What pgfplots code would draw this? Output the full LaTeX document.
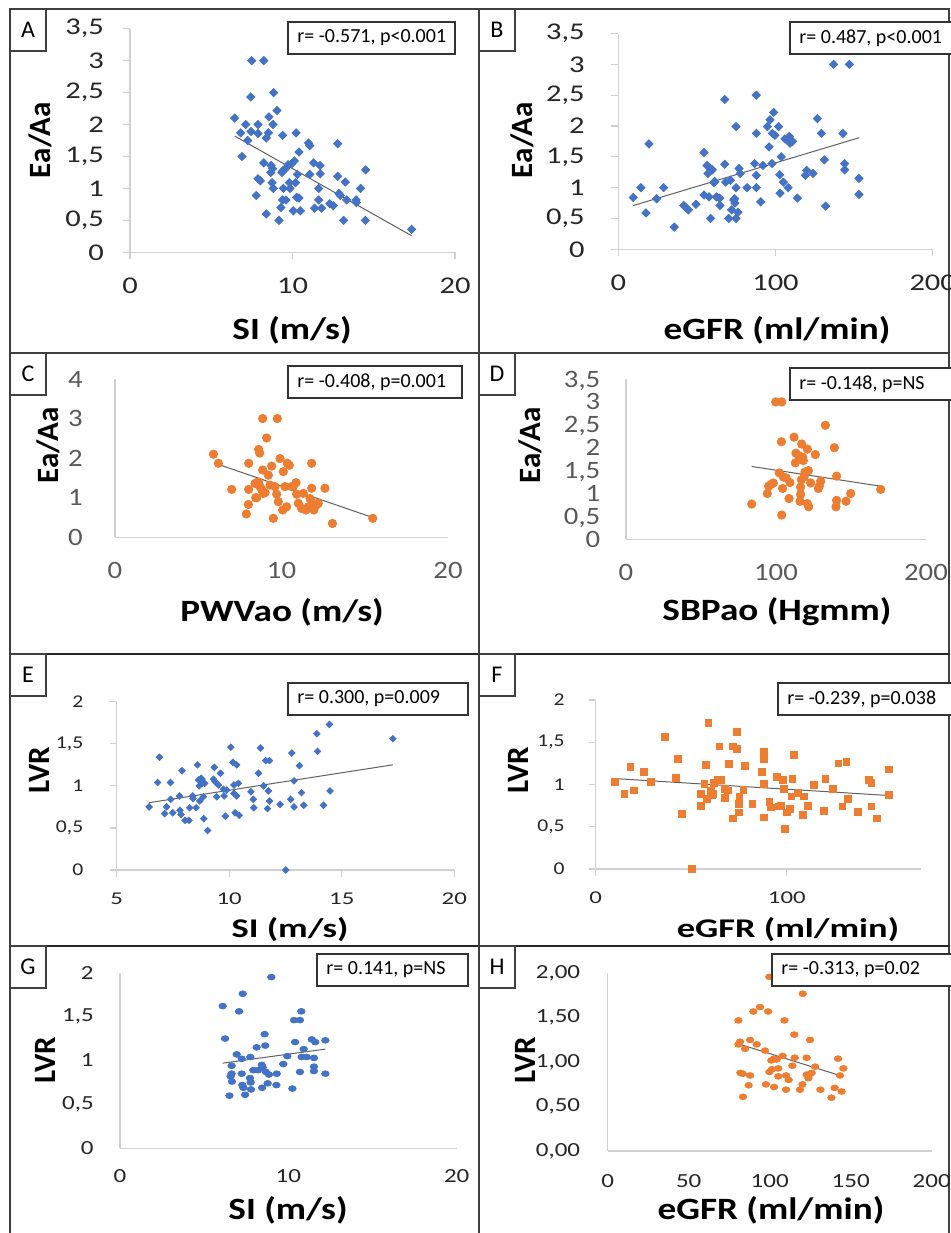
\documentclass[border=0pt]{standalone}
\usepackage{fontspec}
\setmainfont{Carlito}
\usepackage{pgfplots}
\pgfplotsset{compat=1.18}

\definecolor{xblue}{HTML}{4472C4}
\definecolor{xorange}{HTML}{ED7D31}
\definecolor{axgray}{HTML}{D0D0D0}
\definecolor{lblgray}{HTML}{595959}
\definecolor{trend}{HTML}{606060}

\pgfplotsset{
  panel/.style={
    scale only axis, anchor=south west, clip=false,
    axis x line*=bottom, axis y line*=left,
    axis line style={draw=axgray, line width=0.6pt},
    tick style={draw=axgray, line width=0.6pt},
    tick align=outside, major tick length=3.5pt,
    /pgf/number format/assume math mode=true,
    /pgf/number format/use comma,
    tick label style={text=black!85},
  },
  noticks/.style={major tick length=0pt},
  bdia/.style={only marks, mark=square*, mark size=1.45pt,
    mark options={rotate=45, fill=xblue, draw=xblue}},
  bdias/.style={only marks, mark=square*, mark size=1.15pt,
    mark options={rotate=45, fill=xblue, draw=xblue}},
  odot/.style={only marks, mark=*, mark size=2.1pt,
    mark options={fill=xorange, draw=xorange}},
  osq/.style={only marks, mark=square*, mark size=1.7pt,
    mark options={fill=xorange, draw=xorange}},
  bell/.style={only marks, mark=*, mark size=1.45pt,
    mark options={xscale=1.3, fill=xblue, draw=xblue}},
  oell/.style={only marks, mark=*, mark size=1.45pt,
    mark options={xscale=1.3, fill=xorange, draw=xorange}},
  tline/.style={trend, line width=0.5pt, no marks},
}

\newcommand{\bigtick}{\fontsize{12}{12}\selectfont}
\newcommand{\midtick}{\fontsize{12.5}{13}\selectfont}
\newcommand{\rowtick}{\fontsize{9}{9}\selectfont}
\newcommand{\smalltick}{\fontsize{10}{10}\selectfont}
\newcommand{\ttl}{\bfseries\fontsize{15.5}{16}\selectfont}
\newcommand{\rowttl}{\bfseries\fontsize{13.5}{14}\selectfont}
\newcommand{\rbox}{\fontsize{10}{11}\selectfont}
\newcommand{\letter}{\fontsize{12}{12}\selectfont}

\begin{document}
\begin{tikzpicture}[x=0.5pt, y=-0.5pt]
\path[use as bounding box] (0,0) rectangle (951,1233);

% panel frame
\draw[black!75, line width=0.7pt] (10,9) rectangle (949,1240);
\draw[black!75, line width=0.7pt] (479,9) -- (479,1240);
\draw[black!75, line width=0.7pt] (10,353) -- (949,353);
\draw[black!85, line width=1.4pt] (10,654) -- (949,654);
\draw[black!85, line width=1.4pt] (10,946) -- (949,946);

% letter boxes
\foreach \lx/\ly/\lt in {10/9/A, 479/9/B, 10/353/C, 479/353/D, 10/654/E, 479/654/F, 10/946/G, 479/946/H}{
  \draw[black!75, line width=0.6pt] (\lx,\ly) rectangle (\lx+36,\ly+42);
  \node[font=\letter] at (\lx+18,\ly+21) {\lt};
}

% ---------------- A ----------------
\begin{axis}[panel, at={(65pt,-126.15pt)}, width=162.5pt, height=111.8pt,
  xmin=0, xmax=20, ymin=0, ymax=3.5, xtick={0,10,20}, ytick={0,0.5,...,3.5},
  tick label style={font=\bigtick, xscale=1.27},
  xticklabel style={yshift=-6pt}, yticklabel style={xshift=-4pt}]
\addplot[bdia] coordinates {(6.44,2.10)(7.49,3.00)(8.23,3.00)(7.43,2.43)(8.84,2.50)(9.05,2.22)(8.55,2.12)(7.12,2.00)(7.88,2.00)(8.80,2.00)(6.81,1.87)(7.45,1.89)(7.88,1.86)(8.51,1.87)(8.39,1.79)(7.24,1.75)(9.39,1.83)(10.22,1.87)(10.99,1.71)(11.06,1.67)(12.78,1.70)(10.40,1.57)(6.89,1.50)(8.23,1.40)(8.68,1.36)(8.78,1.31)(8.66,1.25)(9.35,1.25)(9.72,1.37)(9.97,1.39)(10.11,1.43)(9.58,1.31)(9.42,1.28)(10.30,1.22)(11.30,1.40)(11.69,1.36)(11.06,1.22)(11.71,1.23)(12.78,1.19)(14.50,1.29)(7.88,1.15)(8.02,1.12)(8.74,1.09)(8.82,1.00)(9.44,1.00)(9.81,1.09)(10.19,1.09)(9.85,1.00)(11.61,1.00)(13.25,1.10)(14.19,1.00)(7.77,0.89)(9.39,0.82)(9.60,0.82)(10.26,0.86)(10.40,0.85)(11.61,0.82)(12.86,0.92)(12.94,0.89)(13.33,0.82)(13.91,0.82)(13.93,0.78)(12.29,0.76)(12.51,0.73)(11.36,0.69)(11.79,0.69)(9.29,0.70)(10.05,0.65)(10.48,0.65)(8.39,0.60)(9.17,0.50)(13.15,0.50)(14.48,0.50)(17.33,0.36)};
\addplot[tline] coordinates {(6.44,1.82)(17.33,0.26)};
\end{axis}

% ---------------- B ----------------
\begin{axis}[panel, at={(309.15pt,-124.65pt)}, width=157.2pt, height=107.9pt,
  xmin=0, xmax=200, ymin=0, ymax=3.5, xtick={0,100,200}, ytick={0,0.5,...,3.5},
  tick label style={font=\bigtick, xscale=1.27},
  xticklabel style={yshift=-6pt}, yticklabel style={xshift=-7pt}]
\addplot[bdia] coordinates {(9.5,0.84)(14.4,1.00)(17.6,0.59)(19.5,1.71)(24.4,0.82)(28.8,1.00)(35.6,0.36)(41.6,0.71)(42.8,0.68)(44.5,0.64)(49.4,0.73)(54.5,1.57)(54.5,0.88)(56.4,1.36)(57.7,0.85)(57.1,1.23)(58.3,1.32)(59.8,1.29)(60.9,1.08)(61.3,1.10)(58.7,0.50)(62.4,0.85)(64.5,0.83)(64.7,0.71)(67.7,2.43)(67.7,1.38)(68.3,1.09)(70.2,0.50)(71.3,1.12)(72.1,0.64)(73.4,0.80)(74.0,0.82)(74.2,0.75)(74.9,1.99)(74.9,1.00)(74.9,0.50)(76.1,0.60)(76.8,1.31)(77.6,1.23)(81.9,1.00)(87.8,2.50)(87.8,1.88)(86.7,1.39)(87.8,1.20)(87.8,1.00)(90.6,0.77)(92.0,1.36)(94.8,1.99)(95.9,1.66)(96.5,2.10)(98.0,1.88)(98.8,2.22)(99.7,1.85)(102.0,1.99)(97.8,1.39)(102.7,1.21)(102.9,0.91)(103.7,1.50)(105.0,1.09)(106.0,1.79)(108.0,1.00)(108.8,1.83)(109.2,1.72)(109.9,1.75)(110.9,1.75)(113.9,0.83)(119.0,1.20)(119.8,1.28)(123.9,1.23)(126.6,2.12)(129.2,1.88)(131.1,1.45)(131.9,0.70)(137.0,3.00)(142.9,1.88)(144.0,1.39)(144.0,1.29)(147.0,3.00)(153.1,1.15)(153.1,0.89)};
\addplot[tline] coordinates {(9.5,0.71)(153.3,1.81)};
\end{axis}

% ---------------- C ----------------
\begin{axis}[panel, noticks, at={(57.5pt,-268.65pt)}, width=166.5pt, height=79.15pt,
  xmin=0, xmax=20, ymin=0, ymax=4, xtick={0,10,20}, ytick={0,1,2,3,4},
  tick label style={font=\midtick, text=lblgray, xscale=1.15},
  xticklabel style={yshift=-9pt}, yticklabel style={xshift=-10.5pt}]
\addplot[odot] coordinates {(5.91,2.10)(6.21,1.87)(7.01,1.21)(7.89,0.59)(8.01,0.83)(8.03,1.21)(8.03,1.87)(8.45,1.00)(8.51,1.00)(8.63,2.22)(8.69,2.13)(8.87,3.00)(9.75,3.00)(9.11,2.51)(8.41,1.36)(8.61,1.40)(8.71,1.28)(8.81,1.21)(8.87,1.70)(8.91,1.11)(9.01,1.13)(9.21,1.57)(9.31,1.32)(9.41,1.80)(9.51,0.48)(9.61,1.28)(9.71,1.09)(9.81,0.90)(9.91,1.99)(10.07,0.69)(10.11,1.66)(10.21,1.28)(10.31,0.77)(10.35,1.87)(10.47,1.82)(10.61,1.28)(10.71,1.29)(10.87,1.38)(10.91,1.09)(11.01,0.86)(11.21,0.73)(11.31,1.11)(11.47,0.69)(11.61,0.77)(11.71,0.98)(11.81,1.87)(11.81,1.24)(11.91,0.86)(11.95,0.69)(12.11,0.82)(12.21,0.86)(12.61,1.24)(13.06,0.35)(15.48,0.48)};
\addplot[tline] coordinates {(5.95,1.88)(15.48,0.50)};
\end{axis}

% ---------------- D ----------------
\begin{axis}[panel, noticks, at={(313pt,-269.65pt)}, width=150pt, height=80.15pt,
  xmin=0, xmax=200, ymin=0, ymax=3.5, xtick={0,100,200}, ytick={0,0.5,...,3.5},
  tick label style={font=\midtick, text=lblgray, xscale=1.15},
  xticklabel style={yshift=-9pt},
  yticklabel style={inner sep=0.5pt, text height=8pt, text depth=0pt, xshift=-10.5pt}]
\addplot[odot] coordinates {(83.8,0.77)(94.2,1.00)(95.1,1.16)(96.7,1.20)(98.2,1.23)(99.8,3.00)(103.8,3.00)(103.6,2.13)(102.2,1.45)(103.8,0.53)(104.4,1.11)(104.9,1.36)(106.7,1.34)(108.7,0.89)(109.3,1.24)(112.0,2.23)(112.9,1.67)(113.3,1.88)(115.1,1.83)(116.0,0.83)(116.4,0.98)(116.4,1.14)(116.9,1.30)(117.1,2.08)(117.8,1.79)(118.2,1.72)(118.7,1.36)(119.3,1.47)(120.9,1.97)(120.9,0.78)(121.8,0.71)(121.6,1.50)(123.1,1.23)(126.2,1.85)(128.2,1.11)(128.9,1.16)(129.8,1.27)(132.9,2.49)(138.9,2.00)(140.0,0.71)(140.4,1.38)(140.4,0.85)(146.7,0.83)(149.8,1.00)(169.8,1.09)};
\addplot[tline] coordinates {(83.8,1.59)(169.8,1.16)};
\end{axis}

% ---------------- E ----------------
\begin{axis}[panel, at={(58.35pt,-435pt)}, width=168.8pt, height=84.15pt,
  xmin=5, xmax=20, ymin=0, ymax=2, xtick={5,10,15,20}, ytick={0,0.5,...,2},
  tick label style={font=\rowtick, xscale=1.2},
  xticklabel style={yshift=-4.5pt, xscale=1.15}, yticklabel style={xshift=-7.5pt}]
\addplot[bdias] coordinates {(6.44,0.75)(6.82,1.04)(6.90,1.34)(7.13,0.67)(7.22,0.75)(7.39,1.04)(7.40,0.84)(7.49,0.68)(7.79,0.88)(7.81,0.71)(7.90,1.18)(7.86,0.66)(8.04,0.59)(8.21,0.59)(8.24,0.74)(8.38,0.88)(8.39,0.85)(8.53,0.74)(8.59,1.25)(8.63,1.07)(8.67,1.00)(8.69,0.82)(8.75,1.09)(8.79,1.03)(8.85,0.87)(8.79,1.08)(8.87,0.61)(8.91,1.03)(9.04,0.47)(9.34,1.22)(9.30,1.08)(9.37,1.05)(9.44,0.87)(9.52,1.01)(9.61,1.15)(9.74,0.96)(9.77,0.88)(9.83,0.64)(9.89,0.95)(10.07,1.46)(10.16,1.28)(10.21,1.01)(10.21,0.91)(10.33,1.25)(10.26,0.68)(10.33,0.88)(10.41,1.03)(10.44,0.65)(10.96,0.93)(11.07,0.84)(11.09,0.74)(11.30,1.15)(11.39,1.45)(11.53,1.00)(11.62,1.30)(11.74,0.94)(11.79,1.30)(11.79,0.82)(11.70,0.73)(12.26,0.78)(12.51,0.00)(12.73,0.84)(12.78,1.39)(12.88,1.06)(12.88,0.75)(13.12,1.24)(13.21,0.92)(13.31,0.77)(13.89,1.62)(13.92,1.41)(14.19,0.77)(14.45,1.73)(14.48,0.94)(17.27,1.56)};
\addplot[tline] coordinates {(6.44,0.80)(17.27,1.25)};
\end{axis}

% ---------------- F ----------------
\begin{axis}[panel, at={(297.85pt,-434.5pt)}, width=162.5pt, height=84.5pt,
  xmin=0, xmax=170, ymin=0, ymax=2, xtick={0,100}, ytick={0,0.5,...,2},
  tick label style={font=\rowtick, xscale=1.2},
  xticklabel style={yshift=-4.5pt, xscale=1.15}, yticklabel style={xshift=-6.5pt}]
\addplot[osq] coordinates {(10.1,1.03)(15.0,0.89)(18.2,1.21)(20.1,0.93)(25.1,1.15)(29.0,1.03)(36.0,1.56)(41.9,1.08)(42.8,1.30)(44.9,0.65)(50.3,0.00)(55.1,0.75)(55.1,0.89)(56.9,1.01)(57.8,1.23)(59.0,1.73)(58.1,0.83)(60.2,0.92)(60.7,0.88)(61.6,0.89)(61.9,1.02)(63.7,1.05)(64.7,1.45)(65.3,1.05)(67.4,0.95)(67.7,0.84)(69.0,0.93)(69.8,1.24)(71.6,1.45)(71.6,0.60)(73.8,1.42)(74.0,1.62)(74.7,0.67)(75.0,0.77)(75.2,0.86)(77.3,0.94)(78.2,1.22)(82.0,0.77)(86.9,1.15)(87.8,1.39)(88.0,1.30)(88.1,1.01)(88.1,0.61)(90.9,0.79)(91.6,0.73)(94.8,1.09)(95.6,0.74)(97.0,0.75)(97.9,1.05)(98.4,0.95)(99.0,0.47)(100.0,0.67)(101.7,0.71)(102.9,1.07)(102.4,0.86)(103.8,1.35)(105.6,0.90)(108.2,0.64)(109.1,0.86)(110.8,0.75)(114.1,1.00)(119.2,0.69)(120.1,1.07)(124.1,0.95)(126.9,1.25)(129.0,0.74)(131.1,1.27)(131.9,0.83)(137.2,0.68)(142.9,1.05)(144.2,1.02)(144.2,0.74)(147.1,0.60)(153.2,1.18)(153.2,0.88)};
\addplot[tline] coordinates {(10.1,1.07)(153.2,0.87)};
\end{axis}

% ---------------- G ----------------
\begin{axis}[panel, noticks, at={(60pt,-574.15pt)}, width=168.35pt, height=87.8pt,
  xmin=0, xmax=20, ymin=0, ymax=2, xtick={0,10,20}, ytick={0,0.5,...,2},
  tick label style={font=\smalltick, xscale=1.25},
  xticklabel style={yshift=-7pt}, yticklabel style={xshift=-7pt}]
\addplot[bell] coordinates {(6.10,1.62)(6.24,1.25)(6.50,0.60)(6.57,0.82)(6.63,0.94)(6.63,0.85)(6.65,0.76)(6.93,1.07)(7.07,1.56)(7.23,1.02)(7.23,0.85)(7.27,0.72)(7.29,1.76)(7.33,0.69)(7.43,0.61)(7.72,0.80)(7.74,1.04)(7.76,0.75)(7.78,0.67)(7.92,0.89)(8.12,1.15)(8.20,0.89)(8.42,0.95)(8.44,0.69)(8.48,0.92)(8.59,1.30)(8.63,1.17)(8.67,0.87)(8.77,0.74)(8.85,0.84)(8.99,1.95)(9.29,0.72)(9.31,0.85)(9.70,0.96)(9.94,1.05)(10.24,0.68)(10.40,1.21)(10.34,1.46)(10.69,1.46)(10.69,0.87)(10.77,1.56)(10.79,1.04)(10.91,1.13)(11.09,1.04)(11.39,1.24)(11.52,1.03)(11.52,0.93)(11.52,0.88)(11.60,1.21)(12.20,1.23)(12.20,0.85)};
\addplot[tline] coordinates {(6.10,0.97)(12.20,1.13)};
\end{axis}

% ---------------- H ----------------
\begin{axis}[panel, noticks, at={(303.85pt,-575.5pt)}, width=162pt, height=88.85pt,
  xmin=0, xmax=200, ymin=0, ymax=2, xtick={0,50,...,200}, ytick={0,0.5,...,2},
  tick label style={font=\smalltick, xscale=1.25},
  xticklabel style={yshift=-8pt},
  yticklabel style={/pgf/number format/fixed, /pgf/number format/fixed zerofill,
    /pgf/number format/precision=2, xshift=-7.5pt}]
\addplot[oell] coordinates {(80.7,1.47)(80.7,1.20)(81.7,1.23)(81.9,0.88)(83.3,0.87)(83.5,0.61)(84.8,1.15)(87.0,0.74)(87.9,0.85)(87.9,1.25)(89.9,1.57)(92.0,1.20)(94.0,1.62)(97.7,0.75)(97.1,1.13)(99.0,1.57)(99.8,1.96)(99.8,0.89)(101.0,1.02)(101.4,0.92)(102.7,0.72)(102.7,1.04)(104.3,1.03)(105.3,0.93)(105.3,0.84)(108.0,1.07)(109.1,1.47)(110.1,0.69)(110.1,0.85)(111.7,0.80)(114.0,0.96)(115.2,1.31)(115.4,1.05)(118.7,0.69)(120.2,0.75)(120.4,1.77)(122.8,1.05)(122.8,0.86)(123.9,0.82)(124.9,1.25)(125.3,0.87)(125.9,0.88)(128.0,0.95)(131.3,0.69)(138.1,0.60)(140.1,0.71)(142.2,1.04)(143.4,0.85)(144.4,0.67)(145.5,0.93)};
\addplot[tline] coordinates {(81.7,1.20)(143.4,0.85)};
\end{axis}

% r boxes (drawn after the axes so they sit on top)
\foreach \bx/\by/\bw/\bt in {288/22/167/{r= -0.571, p<0.001}, 790/22/165/{r= 0.487, p<0.001},
  288/366/174/{r= -0.408, p=0.001}, 790/368/165/{r= -0.148, p=NS},
  288/683/180/{r= 0.300, p=0.009}, 778/683/175/{r= -0.239, p=0.038},
  317/954/151/{r= 0.141, p=NS}, 772/954/180/{r= -0.313, p=0.02}}{
  \draw[black!80, line width=0.6pt, fill=white] (\bx,\by) rectangle ++(\bw,32);
  \node[anchor=west, font=\rbox, inner sep=0pt] at (\bx+9,\by+16) {\bt};
}

% axis titles
\node[font=\ttl, xscale=1.2] at (292,330) {SI (m/s)};
\node[font=\ttl, xscale=1.2] at (777,330) {eGFR (ml/min)};
\node[font=\ttl, xscale=1.2] at (282,612) {PWVao (m/s)};
\node[font=\ttl, xscale=1.2] at (777,612) {SBPao (Hgmm)};
\node[font=\rowttl, xscale=1.35] at (290,930) {SI (m/s)};
\node[font=\rowttl, xscale=1.35] at (788,930) {eGFR (ml/min)};
\node[font=\ttl, xscale=1.2] at (288,1210) {SI (m/s)};
\node[font=\ttl, xscale=1.2] at (771,1210) {eGFR (ml/min)};

\node[font=\ttl, rotate=90] at (40,140) {Ea/Aa};
\node[font=\ttl, rotate=90] at (522,140) {Ea/Aa};
\node[font=\ttl, rotate=90] at (48,445) {Ea/Aa};
\node[font=\ttl, rotate=90] at (530,445) {Ea/Aa};
\node[font=\ttl, rotate=90] at (39,770) {LVR};
\node[font=\ttl, rotate=90] at (518,770) {LVR};
\node[font=\ttl, rotate=90] at (45,1060) {LVR};
\node[font=\ttl, rotate=90] at (525,1060) {LVR};
\end{tikzpicture}
\end{document}
